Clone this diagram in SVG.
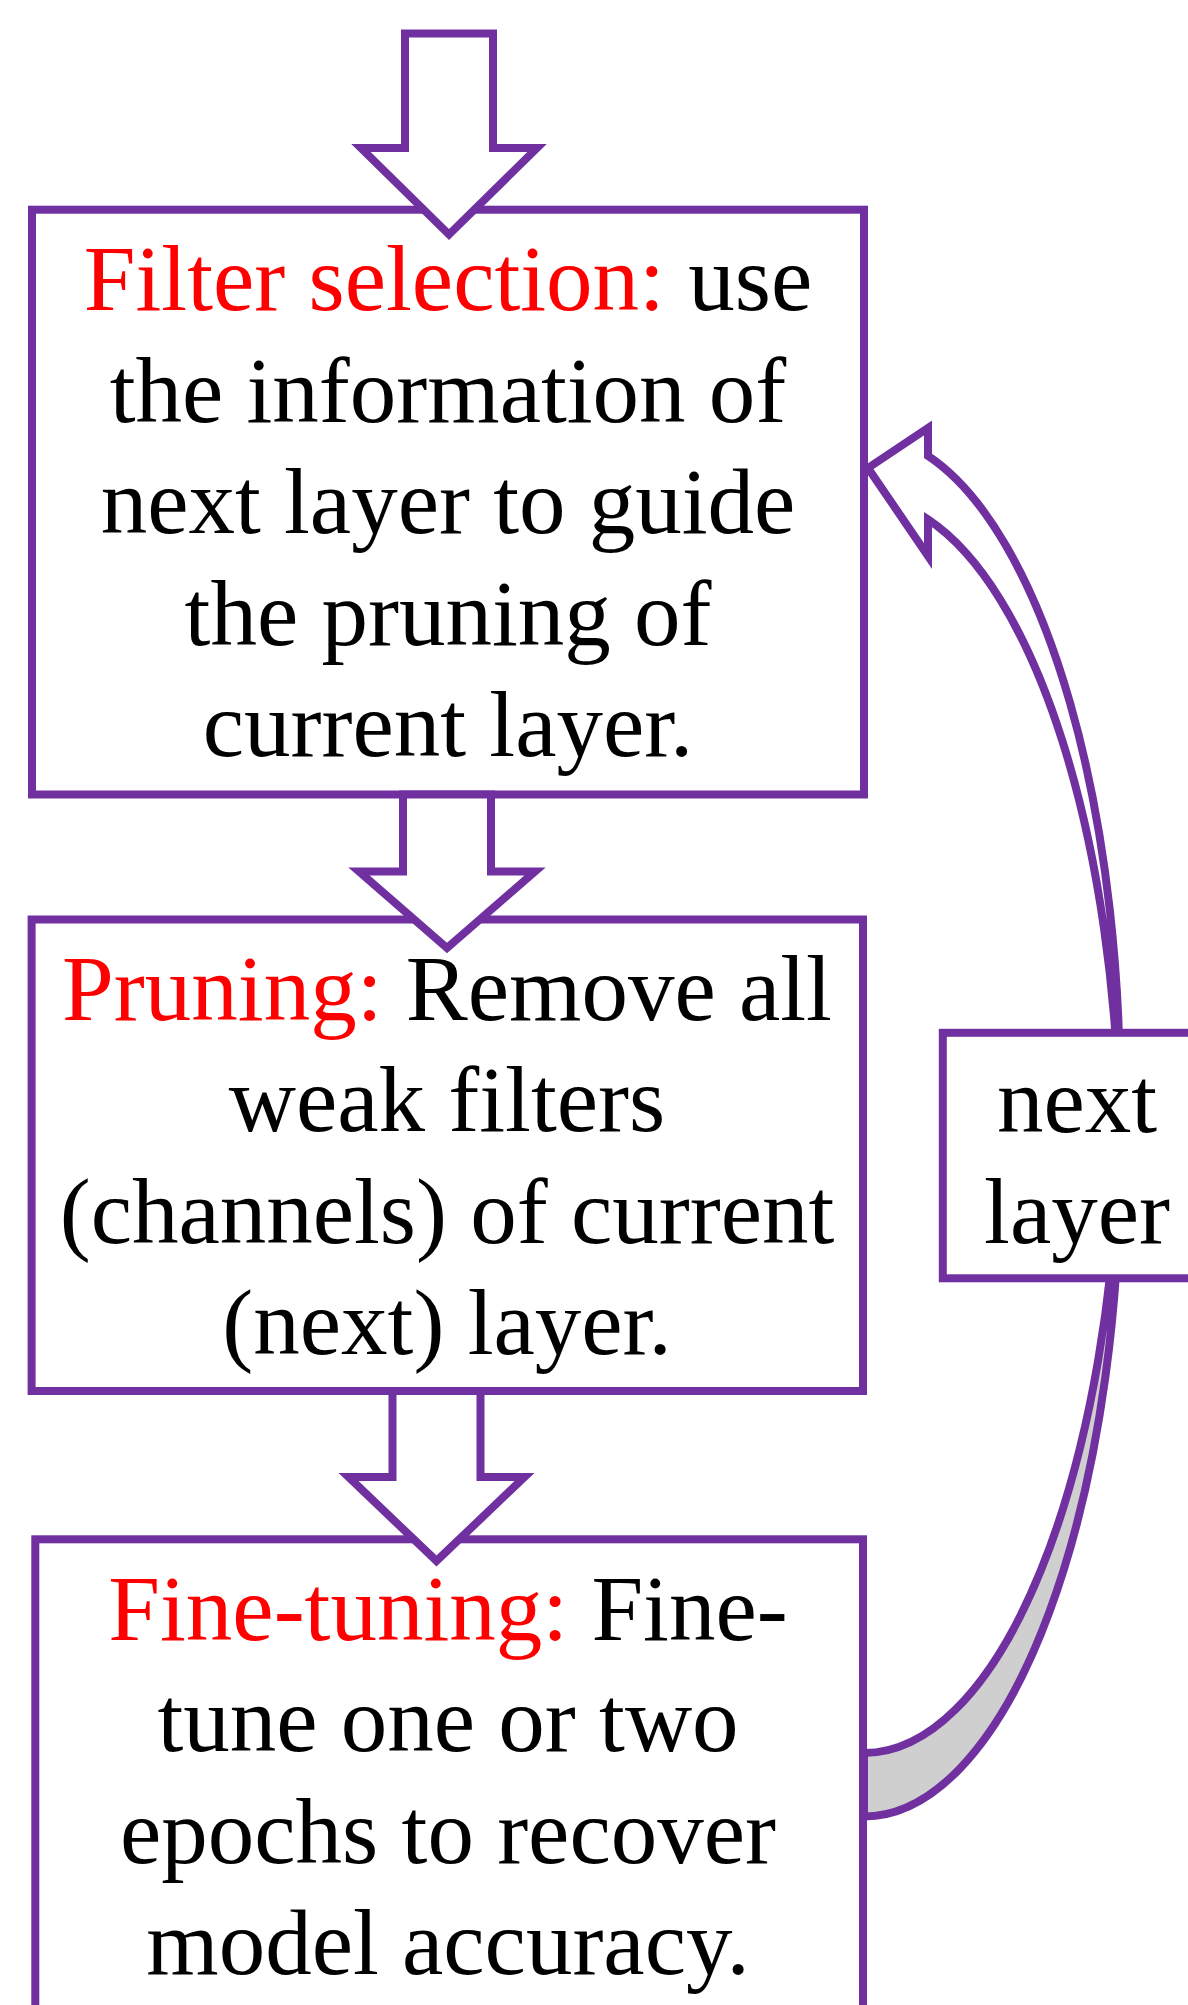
<svg xmlns="http://www.w3.org/2000/svg" width="1188" height="2005" viewBox="0 0 1188 2005">
  <style>
    .box { fill: #ffffff; stroke: #7030a0; stroke-width: 8; }
    .flow { fill: #ffffff; stroke: #7030a0; stroke-width: 8; stroke-linejoin: miter; stroke-miterlimit: 10; }
    .back { fill: #cfcfcf; stroke: #7030a0; stroke-width: 8; stroke-linejoin: miter; }
    .txt { font-family: "Liberation Serif", "Times New Roman", serif; font-size: 93px; fill: #000000; text-anchor: middle; }
    .key { fill: #ff0000; }
  </style>
  <rect width="1188" height="2005" fill="#ffffff"/>

  <g id="filter-selection">
    <rect class="box" x="32" y="209.7" width="832" height="584.8"/>
    <text class="txt" x="448" y="310"><tspan class="key">Filter selection:</tspan> use</text>
    <text class="txt" x="448" y="421.6">the information of</text>
    <text class="txt" x="448" y="533.2">next layer to guide</text>
    <text class="txt" x="448" y="644.8">the pruning of</text>
    <text class="txt" x="448" y="756.4">current layer.</text>
  </g>

  <g id="pruning">
    <rect class="box" x="31.6" y="919.5" width="831.4" height="471.5"/>
    <text class="txt" x="447" y="1019.5"><tspan class="key">Pruning:</tspan> Remove all</text>
    <text class="txt" x="447" y="1131.1">weak filters</text>
    <text class="txt" x="447" y="1242.7">(channels) of current</text>
    <text class="txt" x="447" y="1354.3">(next) layer.</text>
  </g>

  <g id="fine-tuning">
    <rect class="box" x="35.3" y="1539.3" width="827.7" height="600"/>
    <text class="txt" x="448" y="1639.5"><tspan class="key">Fine-tuning:</tspan> Fine-</text>
    <text class="txt" x="448" y="1751.1">tune one or two</text>
    <text class="txt" x="448" y="1862.7">epochs to recover</text>
    <text class="txt" x="448" y="1974.3">model accuracy.</text>
  </g>

  <g id="connectors">
    <!-- block arrows down the main column -->
    <path class="flow" d="M405,33.5 H493 V148 H537 L449,234.5 L361,148 H405 Z"/>
    <path class="flow" d="M403,794.5 H491 V871.5 H535 L447,948 L359,871.5 H403 Z"/>
    <path class="flow" d="M392.5,1391 H480.5 V1477 H524.5 L436.5,1561 L348.5,1477 H392.5 Z"/>
    <!-- curved return arrow: shaded back face near the tail -->
    <path class="back" d="M1119.7,1125.75 A256,659 0 0 1 864,1753 L864,1816.5 A256,659 0 0 0 1119.7,1125.75 Z"/>
    <!-- curved return arrow: front face with head -->
    <path class="flow" d="M928,455.93 A256,659 0 0 1 1119.7,1125.75 A256,659 0 0 0 928,519.43 L928,556 L868,468 L928,428 Z"/>
  </g>

  <g id="next-layer">
    <rect class="box" x="942.8" y="1032.8" width="268" height="245.5"/>
    <text class="txt" x="1077" y="1131.7">next</text>
    <text class="txt" x="1077" y="1243.3">layer</text>
  </g>
</svg>
